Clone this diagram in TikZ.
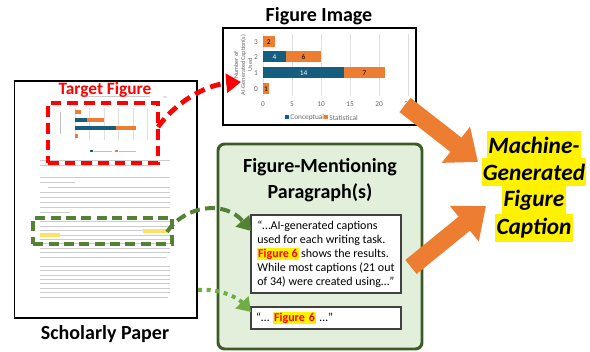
\documentclass[tikz,border=0pt]{standalone}
\usepackage{fontspec}
\setmainfont{Carlito}
\usetikzlibrary{arrows.meta,positioning}
\definecolor{barorange}{RGB}{237,125,49}
\definecolor{barblue}{RGB}{22,94,128}
\definecolor{dashgreen}{RGB}{84,130,53}
\definecolor{dotgreen}{RGB}{112,173,71}
\definecolor{boxgreen}{RGB}{60,90,38}
\definecolor{fillgreen}{RGB}{226,239,218}
\setlength{\fboxsep}{0.6pt}
\newcommand{\figsix}{\colorbox{yellow}{\textcolor{red}{\textbf{Figure 6}}}}

\begin{document}
\begin{tikzpicture}[x=0.75pt,y=-0.75pt,
  title/.style={font=\fontsize{15}{18}\selectfont\bfseries, align=center},
  textline/.style={gray!40, line width=0.75pt},
  gridline/.style={gray!25, line width=0.4pt},
  ticklabel/.style={font=\fontsize{5.5}{6}\selectfont, text=gray!80!black, inner sep=0.5pt},
  tinylabel/.style={font=\fontsize{2.5}{3}\selectfont, inner sep=0pt},
  barlabel/.style={font=\fontsize{5.5}{6}\selectfont, inner sep=0pt},
  paragraph/.style={draw=black!75, line width=0.8pt, fill=white, align=left, minimum width=112.5pt,
    inner xsep=2pt, font=\fontsize{9}{10.5}\selectfont},
  caption/.style={fill=yellow, inner xsep=1pt, inner ysep=0pt, minimum height=21pt,
    font=\fontsize{17.5}{21}\selectfont\bfseries\itshape},
  bigarrow/.style={barorange, line width=13.5pt, -{Triangle[length=21pt,width=33pt]}}
]
\useasboundingbox (0,0) rectangle (590,352);

% scholarly paper
\node[draw=black, line width=1pt, minimum width=137pt, minimum height=177.75pt, inner sep=0pt] (paper) at (105.5,199.5) {};
\node[title] (papertitle) at (105,334) {Scholarly Paper};
% page text
\draw[textline] (82,97) -- (150,97);
\node[tinylabel, text=gray] (pagenum) at (165,97) {11};
\foreach \y/\a/\b in {161/40/170,166/40/150,178/40/170,183/40/75,
  188/48/170,193/40/170,198/40/170,203/40/170,208/40/170,213/40/70,
  222/40/170,227/40/170,231/40/170,236/40/170,240/40/170,244/40/170,249/40/170,253/40/170,258/40/167,
  267/40/170,271/40/170,276/40/170,280/40/170,284/40/170,289/40/170,293/40/170,298/40/168}
  \draw[textline] (\a,\y) -- (\b,\y);
\fill[yellow!70!orange!60] (143,229) rectangle (167,233);
\fill[yellow!70!orange!60] (40,233) rectangle (60,237);
% small copy of the figure
\foreach \k in {0,...,5}
  \draw[gray!25, line width=0.3pt] (75+14.5*\k,108) -- (75+14.5*\k,140);
\fill[barorange] (75,110) rectangle ++(5.8,4.5);
\fill[barblue] (75,118) rectangle ++(11.6,4.5);
\fill[barorange] (86.6,118) rectangle ++(17.4,4.5);
\fill[barblue] (75,126) rectangle ++(40.6,4.5);
\fill[barorange] (115.6,126) rectangle ++(20.3,4.5);
\fill[barorange] (75,134) rectangle ++(2.9,4.5);
\fill[barblue] (90,150) rectangle ++(2.5,2.5);
\fill[barorange] (115,150) rectangle ++(2.5,2.5);
\draw[gray!50, line width=0.4pt] (94,151.25) -- (112,151.25) (119,151.25) -- (136,151.25);
\draw[gray!50, line width=0.4pt] (60,112) -- (60,134);

\node[draw=red, line width=3.6pt, dash pattern=on 8pt off 4.5pt, minimum width=82.5pt, minimum height=45pt] (tgtbox) at (103,133) {};
\node[title, text=red, font=\fontsize{13}{15}\selectfont\bfseries] (tgttitle) at (105,90) {Target Figure};
\node[draw=dashgreen, line width=3pt, dash pattern=on 7.5pt off 4pt, minimum width=104pt, minimum height=19.5pt] (parabox) at (102.5,231) {};

% figure image
\node[title] (imgtitle) at (319,16) {Figure Image};
\node[draw=black, line width=1pt, fill=white, minimum width=144.75pt, minimum height=72.75pt] (figimg) at (319.5,76.5) {};
\foreach \k in {1,...,5}
  \draw[gridline] (263+29*\k,34) -- (263+29*\k,96);
\draw[gridline] (263,34) -- (263,96);
\foreach \v [count=\i from 0] in {0,5,10,15,20,25}
  \node[ticklabel] (xt\i) at (263+29*\i,104) {\v};
\foreach \c/\y in {3/42,2/57,1/73,0/89}
  \node[ticklabel] (yt\c) at (256,\y) {\c};
\node[rotate=90, align=center, font=\fontsize{4.6}{5.2}\selectfont, text=gray!80!black] (ytitle) at (243,65) {Number of\\AI-Generated Caption(s)\\Used};
\fill[barorange] (263,36.5) rectangle (274.6,47.5);
\node[barlabel] (b32) at (268.8,42) {2};
\fill[barblue] (263,51.5) rectangle (286.2,62.5);
\node[barlabel, text=white] (b24) at (274.6,57) {4};
\fill[barorange] (286.2,51.5) rectangle (321,62.5);
\node[barlabel] (b26) at (303.6,57) {6};
\fill[barblue] (263,67.5) rectangle (344.2,78.5);
\node[barlabel, text=white] (b114) at (303.6,73) {14};
\fill[barorange] (344.2,67.5) rectangle (384.8,78.5);
\node[barlabel] (b17) at (364.5,73) {7};
\fill[barorange] (263,83.5) rectangle (268.8,94.5);
\node[barlabel] (b01) at (265.9,89) {1};
\fill[barblue] (285,115.5) rectangle ++(4,4);
\node[ticklabel, anchor=west] (legc) at (289.5,117.5) {Conceptual};
\fill[barorange] (324,115.5) rectangle ++(4,4);
\node[ticklabel, anchor=west] (legs) at (328.5,117.5) {Statistical};

% figure-mentioning paragraphs
\node[draw=boxgreen, line width=2.2pt, fill=fillgreen, rounded corners=5pt, minimum width=153pt, minimum height=153.75pt] (mention) at (320,246.5) {};
\node[title] (mentiontitle) at (320,180) {Figure-Mentioning\\[1.5pt]Paragraph(s)};
\node[paragraph, minimum height=58.5pt] (para1) at (326,254) {“…AI-generated captions\\used for each writing task.\\\figsix{} shows the results.\\While most captions (21 out\\of 34) were created using…”};
\node[paragraph, minimum height=16.5pt, text width=105pt] (para2) at (326,318) {“… \figsix{} …”};

% machine-generated caption
\node[caption] (cap1) at (534,145) {Machine-};
\node[caption] (cap2) at (534,172) {Generated};
\node[caption] (cap3) at (534,200) {Figure};
\node[caption] (cap4) at (534,228) {Caption};

% connectors
\coordinate (redstart) at (158,127);
\coordinate (redend) at (241,82);
\coordinate (greenstart) at (167,232);
\coordinate (greenend) at (251,231);
\coordinate (dotstart) at (198,290);
\coordinate (dotend) at (251,312);
\coordinate (orange1start) at (405,105);
\coordinate (orange1end) at (478,162);
\coordinate (orange2start) at (411,267);
\coordinate (orange2end) at (486,206);

\draw[red, line width=3.6pt, dash pattern=on 8pt off 4.5pt, -{Triangle[length=11pt,width=14pt]}]
  (redstart) .. controls (175,103) and (205,85) .. (redend);
\draw[dashgreen, line width=3pt, dash pattern=on 7.5pt off 4pt, -{Triangle[length=10pt,width=13pt]}]
  (greenstart) .. controls (185,205) and (225,200) .. (greenend);
\draw[dotgreen, line width=3pt, dash pattern=on 3pt off 3.5pt, -{Triangle[length=10pt,width=13pt]}]
  (dotstart) .. controls (220,288) and (238,298) .. (dotend);
\draw[bigarrow] (orange1start) -- (orange1end);
\draw[bigarrow] (orange2start) -- (orange2end);
\end{tikzpicture}
\end{document}
